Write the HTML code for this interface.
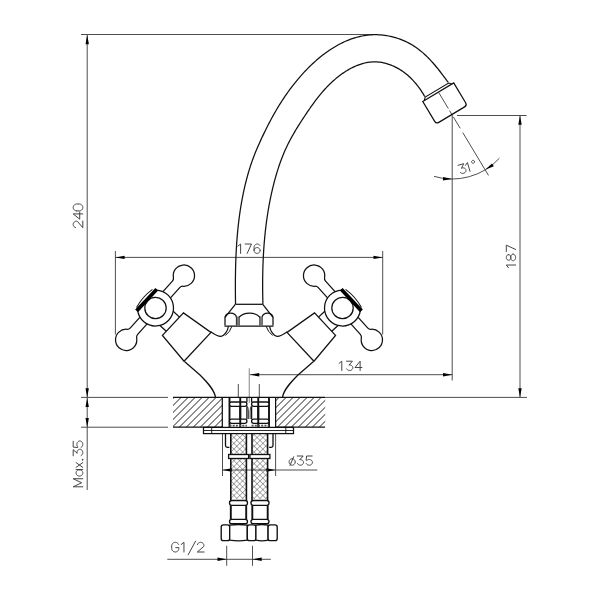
<!DOCTYPE html>
<html><head><meta charset="utf-8"><style>
html,body{margin:0;padding:0;background:#fff;width:600px;height:600px;overflow:hidden}
svg{display:block}
text{font-family:"Liberation Sans",sans-serif}
</style></head><body>
<svg width="600" height="600" viewBox="0 0 600 600">
<rect width="600" height="600" fill="#fff"/>
<line x1="81.00" y1="34.50" x2="376.00" y2="34.50" stroke="#3a3a3a" stroke-width="0.9" fill="none"/>
<line x1="87.20" y1="35.00" x2="87.20" y2="490.00" stroke="#3a3a3a" stroke-width="0.9" fill="none"/>
<polygon points="87.20,35.00 88.90,44.20 85.50,44.20" fill="#000"/>
<polygon points="87.20,397.40 85.50,388.20 88.90,388.20" fill="#000"/>
<polygon points="87.20,397.90 88.90,407.10 85.50,407.10" fill="#000"/>
<polygon points="87.20,427.20 85.50,418.00 88.90,418.00" fill="#000"/>
<line x1="81.00" y1="397.40" x2="168.00" y2="397.40" stroke="#3a3a3a" stroke-width="0.9" fill="none"/>
<line x1="325.00" y1="397.40" x2="527.00" y2="397.40" stroke="#3a3a3a" stroke-width="0.9" fill="none"/>
<line x1="81.00" y1="427.20" x2="168.00" y2="427.20" stroke="#3a3a3a" stroke-width="0.9" fill="none"/>
<path d="M75.55,227.59 L75.02,227.39 L74.54,227.10 L74.11,226.72 L73.75,226.28 L73.48,225.77 L73.29,225.23 L73.21,224.65 L73.22,224.08 L73.33,223.51 L73.54,222.97 L73.83,222.48 L74.21,222.05 L74.65,221.69 L75.15,221.42 L75.68,221.25 L76.24,221.17 L76.80,221.20 L77.35,221.33 L82.80,227.70 L82.80,220.98 M82.80,213.92 L73.20,213.92 L79.73,219.20 L79.73,212.10 M76.66,210.90 L76.06,210.85 L75.47,210.69 L74.93,210.44 L74.43,210.09 L74.01,209.67 L73.66,209.17 L73.41,208.63 L73.25,208.04 L73.20,207.44 L73.25,206.84 L73.41,206.26 L73.66,205.72 L74.01,205.22 L74.43,204.80 L74.93,204.45 L75.47,204.20 L76.06,204.04 L76.66,203.99 L79.34,203.99 L79.94,204.04 L80.53,204.20 L81.07,204.45 L81.57,204.80 L81.99,205.22 L82.34,205.72 L82.59,206.26 L82.75,206.84 L82.80,207.44 L82.75,208.04 L82.59,208.63 L82.34,209.17 L81.99,209.67 L81.57,210.09 L81.07,210.44 L80.53,210.69 L79.94,210.85 L79.34,210.90 L76.66,210.90" stroke="#3a3a3a" stroke-width="0.95" fill="none" stroke-linejoin="round" stroke-linecap="round"/>
<path d="M82.80,486.80 L73.20,486.80 L81.65,482.77 L73.20,478.74 L82.80,478.74 M79.44,469.76 L80.02,469.81 L80.59,469.96 L81.12,470.19 L81.60,470.51 L82.01,470.90 L82.35,471.35 L82.60,471.85 L82.75,472.38 L82.80,472.93 L82.75,473.48 L82.60,474.02 L82.35,474.52 L82.01,474.97 L81.60,475.36 L81.12,475.68 L80.59,475.91 L80.02,476.05 L79.44,476.10 L78.86,476.05 L78.29,475.91 L77.76,475.68 L77.28,475.36 L76.87,474.97 L76.53,474.52 L76.28,474.02 L76.13,473.48 L76.08,472.93 L76.13,472.38 L76.28,471.85 L76.53,471.35 L76.87,470.90 L77.28,470.51 L77.76,470.19 L78.29,469.96 L78.86,469.81 L79.44,469.76 M76.08,469.57 L82.80,469.57 M76.08,467.40 L82.80,462.60 M76.08,462.60 L82.80,467.40 M82.42,460.02 L82.42,459.25 L82.99,459.25 L82.99,460.02 L82.42,460.02 M73.20,455.81 L73.20,449.66 L77.23,453.31 L77.11,453.28 L77.04,452.70 L77.07,452.11 L77.18,451.54 L77.38,451.00 L77.67,450.51 L78.03,450.08 L78.45,449.74 L78.91,449.49 L79.41,449.33 L79.93,449.28 L80.45,449.33 L80.94,449.49 L81.41,449.75 L81.83,450.10 L82.18,450.53 L82.47,451.02 L82.67,451.56 L82.78,452.13 L82.80,452.72 L82.72,453.30 L82.56,453.86 L82.31,454.37 L81.98,454.83 L81.59,455.21 L81.14,455.50 M73.20,441.27 L73.20,447.13 L77.71,447.51 L77.91,446.92 L77.54,446.50 L77.24,446.01 L77.02,445.46 L76.89,444.89 L76.85,444.29 L76.90,443.70 L77.05,443.13 L77.28,442.59 L77.60,442.12 L77.98,441.71 L78.42,441.38 L78.91,441.15 L79.42,441.01 L79.95,440.99 L80.47,441.06 L80.98,441.25 L81.44,441.52 L81.86,441.89 L82.21,442.33 L82.49,442.84 L82.68,443.40 L82.78,443.98 L82.79,444.58 L82.71,445.16 L82.54,445.73 L82.28,446.25 L81.94,446.71 L81.54,447.09 L81.08,447.39" stroke="#3a3a3a" stroke-width="0.95" fill="none" stroke-linejoin="round" stroke-linecap="round"/>
<line x1="115.40" y1="257.40" x2="382.70" y2="257.40" stroke="#3a3a3a" stroke-width="0.9" fill="none"/>
<line x1="115.40" y1="251.00" x2="115.40" y2="334.50" stroke="#3a3a3a" stroke-width="0.9" fill="none"/>
<line x1="382.70" y1="251.00" x2="382.70" y2="334.50" stroke="#3a3a3a" stroke-width="0.9" fill="none"/>
<polygon points="115.40,257.40 124.60,255.70 124.60,259.10" fill="#000"/>
<polygon points="382.70,257.40 373.50,259.10 373.50,255.70" fill="#000"/>
<path d="M237.90,246.16 L240.62,244.00 L240.62,253.40 M245.10,244.00 L251.49,244.00 L247.17,253.40 M259.91,245.36 L259.54,244.92 L259.09,244.56 L258.59,244.27 L258.04,244.09 L257.47,244.01 L256.89,244.02 L256.33,244.15 L255.80,244.37 L255.31,244.68 L254.89,245.08 L254.55,245.55 L254.30,246.07 L254.15,246.62 L254.09,247.20 L254.09,250.49 M260.11,250.49 L260.06,250.99 L259.93,251.48 L259.71,251.94 L259.41,252.36 L259.04,252.72 L258.61,253.01 L258.13,253.22 L257.62,253.36 L257.10,253.40 L256.58,253.36 L256.07,253.22 L255.60,253.01 L255.17,252.72 L254.80,252.36 L254.50,251.94 L254.28,251.48 L254.14,250.99 L254.09,250.49 L254.14,249.98 L254.28,249.49 L254.50,249.03 L254.80,248.61 L255.17,248.25 L255.60,247.96 L256.07,247.75 L256.58,247.62 L257.10,247.57 L257.62,247.62 L258.13,247.75 L258.61,247.96 L259.04,248.25 L259.41,248.61 L259.71,249.03 L259.93,249.49 L260.06,249.98 L260.11,250.49" stroke="#3a3a3a" stroke-width="0.95" fill="none" stroke-linejoin="round" stroke-linecap="round"/>
<line x1="457.00" y1="115.50" x2="526.50" y2="115.50" stroke="#3a3a3a" stroke-width="0.9" fill="none"/>
<line x1="520.00" y1="115.50" x2="520.00" y2="397.40" stroke="#3a3a3a" stroke-width="0.9" fill="none"/>
<polygon points="520.00,115.50 521.70,124.70 518.30,124.70" fill="#000"/>
<polygon points="520.00,397.40 518.30,388.20 521.70,388.20" fill="#000"/>
<path d="M508.44,267.72 L506.30,265.02 L515.60,265.02 M508.62,254.66 L509.03,254.70 L509.42,254.83 L509.79,255.04 L510.12,255.31 L510.41,255.66 L510.64,256.06 L510.81,256.50 L510.91,256.97 L510.95,257.45 L510.91,257.94 L510.81,258.41 L510.64,258.85 L510.41,259.25 L510.12,259.59 L509.79,259.87 L509.42,260.07 L509.03,260.20 L508.62,260.24 L508.22,260.20 L507.83,260.07 L507.46,259.87 L507.13,259.59 L506.84,259.25 L506.61,258.85 L506.44,258.41 L506.34,257.94 L506.30,257.45 L506.34,256.97 L506.44,256.50 L506.61,256.06 L506.84,255.66 L507.13,255.31 L507.46,255.04 L507.83,254.83 L508.22,254.70 L508.62,254.66 M513.09,254.20 L513.53,254.25 L513.95,254.39 L514.34,254.63 L514.70,254.96 L515.01,255.36 L515.26,255.82 L515.45,256.34 L515.56,256.89 L515.60,257.45 L515.56,258.02 L515.45,258.57 L515.26,259.08 L515.01,259.54 L514.70,259.95 L514.34,260.27 L513.95,260.51 L513.53,260.66 L513.09,260.71 L512.65,260.66 L512.23,260.51 L511.83,260.27 L511.47,259.95 L511.17,259.54 L510.91,259.08 L510.73,258.57 L510.62,258.02 L510.58,257.45 L510.62,256.89 L510.73,256.34 L510.91,255.82 L511.17,255.36 L511.47,254.96 L511.83,254.63 L512.23,254.39 L512.65,254.25 L513.09,254.20 M506.30,251.50 L506.30,245.18 L515.60,249.45" stroke="#3a3a3a" stroke-width="0.95" fill="none" stroke-linejoin="round" stroke-linecap="round"/>
<line x1="452.20" y1="115.00" x2="452.20" y2="380.50" stroke="#3a3a3a" stroke-width="0.9" fill="none"/>
<line x1="250.00" y1="374.70" x2="452.20" y2="374.70" stroke="#3a3a3a" stroke-width="0.9" fill="none"/>
<polygon points="250.00,374.70 259.20,373.00 259.20,376.40" fill="#000"/>
<polygon points="452.20,374.70 443.00,376.40 443.00,373.00" fill="#000"/>
<path d="M339.08,363.34 L341.78,361.20 L341.78,370.50 M346.49,361.20 L352.44,361.20 L348.90,365.11 L348.94,364.99 L349.50,364.92 L350.07,364.94 L350.62,365.06 L351.15,365.25 L351.62,365.53 L352.03,365.88 L352.37,366.28 L352.61,366.74 L352.76,367.22 L352.81,367.72 L352.76,368.22 L352.60,368.70 L352.35,369.15 L352.02,369.56 L351.60,369.90 L351.13,370.18 L350.60,370.37 L350.05,370.48 L349.48,370.50 L348.92,370.42 L348.38,370.26 L347.88,370.02 L347.44,369.70 L347.07,369.32 L346.78,368.89 M360.12,370.50 L360.12,361.20 L355.00,367.52 L361.88,367.52" stroke="#3a3a3a" stroke-width="0.95" fill="none" stroke-linejoin="round" stroke-linecap="round"/>
<line x1="249.25" y1="368.30" x2="249.25" y2="403.00" stroke="#777" stroke-width="0.9" fill="none"/>
<line x1="238.30" y1="384.00" x2="238.30" y2="397.40" stroke="#3a3a3a" stroke-width="0.9" fill="none"/>
<line x1="259.30" y1="384.00" x2="259.30" y2="397.40" stroke="#3a3a3a" stroke-width="0.9" fill="none"/>
<path d="M434.02,176.36 A64,64 0 0 0 499.39,158.24" stroke="#3a3a3a" stroke-width="0.9" fill="none"/>
<polygon points="452.20,179.00 442.96,180.46 443.05,177.06" fill="#000"/>
<polygon points="485.16,169.86 492.01,163.48 493.84,166.35" fill="#000"/>
<line x1="438.81" y1="92.71" x2="448.34" y2="108.57" stroke="#3a3a3a" stroke-width="0.9" fill="none"/>
<line x1="449.52" y1="110.54" x2="451.79" y2="114.31" stroke="#3a3a3a" stroke-width="0.9" fill="none"/>
<line x1="453.23" y1="116.71" x2="460.18" y2="128.29" stroke="#3a3a3a" stroke-width="0.9" fill="none"/>
<line x1="462.76" y1="132.57" x2="488.51" y2="175.43" stroke="#3a3a3a" stroke-width="0.9" fill="none"/>
<path d="M458.06,165.33 L463.71,163.65 L461.45,168.35 L461.45,168.23 L461.97,168.01 L462.51,167.87 L463.07,167.82 L463.62,167.86 L464.15,167.99 L464.64,168.20 L465.07,168.50 L465.43,168.86 L465.71,169.27 L465.89,169.73 L465.98,170.22 L465.97,170.72 L465.86,171.22 L465.66,171.70 L465.36,172.14 L464.99,172.54 L464.54,172.87 L464.05,173.13 L463.51,173.30 L462.96,173.39 L462.40,173.39 L461.86,173.30 L461.36,173.13 L460.90,172.87 L460.50,172.54 M465.45,165.34 L467.41,162.56 L470.02,171.38 M474.48,161.42 L474.53,161.68 L474.53,161.93 L474.50,162.19 L474.41,162.43 L474.29,162.66 L474.13,162.86 L473.94,163.03 L473.72,163.16 L473.48,163.25 L473.23,163.31 L472.97,163.31 L472.72,163.27 L472.48,163.19 L472.25,163.07 L472.05,162.91 L471.88,162.72 L471.75,162.50 L471.65,162.26 L471.60,162.01 L471.59,161.75 L471.63,161.50 L471.71,161.26 L471.84,161.03 L472.00,160.83 L472.19,160.66 L472.41,160.53 L472.65,160.43 L472.90,160.38 L473.15,160.37 L473.41,160.41 L473.65,160.49 L473.88,160.62 L474.08,160.78 L474.25,160.97 L474.38,161.19 L474.48,161.42" stroke="#3a3a3a" stroke-width="0.95" fill="none" stroke-linejoin="round" stroke-linecap="round"/>
<line x1="222.50" y1="434.00" x2="222.50" y2="476.00" stroke="#3a3a3a" stroke-width="0.9" fill="none"/>
<line x1="275.60" y1="434.00" x2="275.60" y2="476.00" stroke="#3a3a3a" stroke-width="0.9" fill="none"/>
<line x1="222.50" y1="470.00" x2="317.30" y2="470.00" stroke="#3a3a3a" stroke-width="0.9" fill="none"/>
<polygon points="222.50,470.00 231.70,468.30 231.70,471.70" fill="#000"/>
<polygon points="275.60,470.00 266.40,471.70 266.40,468.30" fill="#000"/>
<path d="M295.17,461.98 L295.13,462.54 L294.99,463.08 L294.77,463.59 L294.46,464.05 L294.09,464.45 L293.65,464.77 L293.17,465.01 L292.66,465.15 L292.14,465.20 L291.61,465.15 L291.10,465.01 L290.62,464.77 L290.18,464.45 L289.81,464.05 L289.51,463.59 L289.28,463.08 L289.15,462.54 L289.10,461.98 L289.15,461.42 L289.28,460.88 L289.51,460.37 L289.81,459.91 L290.18,459.51 L290.62,459.19 L291.10,458.95 L291.61,458.81 L292.14,458.76 L292.66,458.81 L293.17,458.95 L293.65,459.19 L294.09,459.51 L294.46,459.91 L294.77,460.37 L294.99,460.88 L295.13,461.42 L295.17,461.98 M293.70,456.74 L290.02,465.38 M297.28,456.00 L303.17,456.00 L299.68,459.86 L299.71,459.75 L300.27,459.68 L300.83,459.70 L301.38,459.81 L301.89,460.01 L302.36,460.28 L302.77,460.63 L303.10,461.03 L303.34,461.48 L303.49,461.96 L303.54,462.45 L303.49,462.94 L303.34,463.42 L303.09,463.87 L302.76,464.27 L302.35,464.61 L301.87,464.88 L301.36,465.07 L300.81,465.18 L300.24,465.20 L299.69,465.12 L299.15,464.97 L298.66,464.73 L298.23,464.41 L297.86,464.04 L297.58,463.61 M312.16,456.00 L306.54,456.00 L306.18,460.32 L306.75,460.51 L307.15,460.16 L307.62,459.87 L308.14,459.66 L308.69,459.53 L309.26,459.50 L309.83,459.55 L310.38,459.69 L310.89,459.91 L311.35,460.21 L311.74,460.58 L312.05,461.00 L312.28,461.47 L312.40,461.96 L312.43,462.47 L312.35,462.97 L312.18,463.45 L311.91,463.90 L311.56,464.30 L311.14,464.63 L310.65,464.90 L310.12,465.08 L309.56,465.18 L308.99,465.19 L308.43,465.11 L307.89,464.95 L307.39,464.70 L306.95,464.38 L306.58,463.99 L306.29,463.55" stroke="#3a3a3a" stroke-width="0.95" fill="none" stroke-linejoin="round" stroke-linecap="round"/>
<line x1="226.70" y1="545.80" x2="226.70" y2="565.80" stroke="#3a3a3a" stroke-width="0.9" fill="none"/>
<line x1="252.50" y1="545.80" x2="252.50" y2="565.80" stroke="#3a3a3a" stroke-width="0.9" fill="none"/>
<line x1="167.30" y1="559.30" x2="270.80" y2="559.30" stroke="#3a3a3a" stroke-width="0.9" fill="none"/>
<polygon points="226.70,559.30 217.50,561.00 217.50,557.60" fill="#000"/>
<polygon points="252.50,559.30 261.70,557.60 261.70,561.00" fill="#000"/>
<path d="M178.54,544.37 L178.22,543.81 L177.80,543.32 L177.30,542.91 L176.73,542.60 L176.12,542.40 L175.48,542.30 L174.83,542.33 L174.20,542.47 L173.60,542.72 L173.06,543.07 L172.59,543.52 L172.21,544.04 L171.93,544.62 L171.76,545.25 L171.70,545.89 L171.70,548.41 L171.75,549.03 L171.92,549.64 L172.18,550.21 L172.54,550.72 L172.98,551.16 L173.49,551.52 L174.06,551.78 L174.67,551.95 L175.29,552.00 L175.91,551.95 L176.52,551.78 L177.08,551.52 L177.60,551.16 L178.04,550.72 L178.40,550.21 L178.66,549.64 L178.82,549.03 L178.88,548.41 L178.88,547.63 L175.77,547.63 M181.15,544.53 L183.96,542.30 L183.96,552.00 M195.57,541.14 L188.19,554.72 M197.41,544.67 L197.61,544.14 L197.91,543.65 L198.29,543.22 L198.74,542.86 L199.25,542.58 L199.80,542.40 L200.38,542.31 L200.96,542.32 L201.53,542.43 L202.08,542.64 L202.58,542.94 L203.01,543.32 L203.37,543.77 L203.64,544.27 L203.82,544.81 L203.89,545.37 L203.87,545.94 L203.73,546.49 L197.30,552.00 L204.09,552.00" stroke="#3a3a3a" stroke-width="0.95" fill="none" stroke-linejoin="round" stroke-linecap="round"/>
<path d="M235.50,304.30 L235.50,302.36 L235.48,300.44 L235.45,298.52 L235.43,296.60 L235.42,294.68 L235.40,292.76 L235.39,290.83 L235.38,288.91 L235.38,286.98 L235.38,285.06 L235.39,283.13 L235.40,281.20 L235.41,279.27 L235.43,277.35 L235.45,275.42 L235.48,273.49 L235.51,271.56 L235.55,269.63 L235.60,267.70 L235.64,265.77 L235.70,263.84 L235.76,261.90 L235.83,259.97 L235.90,258.04 L235.98,256.11 L236.07,254.18 L236.16,252.25 L236.27,250.32 L236.37,248.40 L236.49,246.47 L236.61,244.54 L236.74,242.61 L236.88,240.69 L237.03,238.76 L237.18,236.84 L237.34,234.91 L237.51,232.99 L237.69,231.07 L237.88,229.15 L238.08,227.23 L238.29,225.31 L238.50,223.40 L238.73,221.48 L238.96,219.57 L239.21,217.66 L239.46,215.75 L239.73,213.84 L240.00,211.93 L240.29,210.03 L240.59,208.13 L240.89,206.23 L241.21,204.33 L241.54,202.43 L241.88,200.54 L242.23,198.64 L242.60,196.76 L242.97,194.87 L243.36,192.98 L243.76,191.10 L244.17,189.22 L244.59,187.34 L245.03,185.47 L245.48,183.60 L245.94,181.73 L246.42,179.86 L246.91,178.00 L247.42,176.14 L247.94,174.29 L248.47,172.43 L249.02,170.59 L249.59,168.74 L250.17,166.90 L250.77,165.06 L251.39,163.23 L252.02,161.40 L252.68,159.58 L253.35,157.76 L254.04,155.95 L254.74,154.14 L255.46,152.34 L256.20,150.54 L256.95,148.74 L257.71,146.96 L258.49,145.17 L259.28,143.40 L260.07,141.63 L260.88,139.87 L261.70,138.11 L262.52,136.36 L263.35,134.61 L264.19,132.88 L265.03,131.15 L265.88,129.43 L266.74,127.71 L267.60,126.00 L268.48,124.30 L269.36,122.61 L270.25,120.92 L271.15,119.24 L272.06,117.56 L272.98,115.90 L273.91,114.24 L274.85,112.59 L275.80,110.94 L276.76,109.30 L277.74,107.67 L278.72,106.05 L279.72,104.43 L280.73,102.82 L281.75,101.22 L282.79,99.63 L283.84,98.04 L284.91,96.46 L285.99,94.89 L287.08,93.32 L288.20,91.76 L289.32,90.21 L290.46,88.67 L291.62,87.13 L292.80,85.60 L293.99,84.08 L295.20,82.57 L296.43,81.06 L297.67,79.56 L298.94,78.07 L300.22,76.59 L301.52,75.12 L302.84,73.65 L304.17,72.20 L305.52,70.77 L306.89,69.34 L308.28,67.93 L309.68,66.54 L311.10,65.16 L312.54,63.80 L313.99,62.46 L315.46,61.14 L316.94,59.84 L318.44,58.56 L319.96,57.30 L321.49,56.07 L323.03,54.86 L324.59,53.68 L326.16,52.52 L327.75,51.39 L329.35,50.29 L330.97,49.21 L332.60,48.17 L334.24,47.16 L335.90,46.18 L337.57,45.23 L339.25,44.32 L340.94,43.44 L342.65,42.60 L344.37,41.79 L346.10,41.03 L347.84,40.30 L349.60,39.61 L351.36,38.96 L353.14,38.36 L354.93,37.79 L356.73,37.27 L358.54,36.80 L360.36,36.37 L362.19,35.99 L364.03,35.65 L365.88,35.37 L367.74,35.13 L369.61,34.94 L371.49,34.81 L373.37,34.73 L375.27,34.70 L377.17,34.72 L379.08,34.80 L381.00,34.94 L382.92,35.12 L384.84,35.36 L386.76,35.66 L388.68,36.01 L390.59,36.40 L392.50,36.85 L394.39,37.35 L396.28,37.91 L398.15,38.51 L400.00,39.16 L401.83,39.86 L403.65,40.61 L405.44,41.41 L407.21,42.25 L408.96,43.14 L410.67,44.08 L412.35,45.07 L414.00,46.10 L415.62,47.18 L417.21,48.30 L418.77,49.46 L420.29,50.65 L421.79,51.88 L423.26,53.15 L424.70,54.45 L426.12,55.78 L427.51,57.13 L428.88,58.52 L430.22,59.92 L431.54,61.35 L432.84,62.79 L434.12,64.26 L435.38,65.74 L436.62,67.23 L437.84,68.73 L439.05,70.24 L440.24,71.76 L441.41,73.29 L442.57,74.81 L443.72,76.34 L444.85,77.87 L445.97,79.39 L447.08,80.91 L448.30,82.40" stroke="#111" stroke-width="1.25" fill="none"/>
<path d="M262.80,304.30 L262.89,302.69 L262.85,301.08 L262.81,299.48 L262.78,297.87 L262.75,296.27 L262.72,294.66 L262.70,293.06 L262.68,291.45 L262.67,289.84 L262.65,288.23 L262.65,286.63 L262.65,285.02 L262.65,283.41 L262.65,281.80 L262.66,280.19 L262.67,278.59 L262.69,276.98 L262.72,275.37 L262.74,273.76 L262.77,272.15 L262.81,270.54 L262.85,268.93 L262.90,267.32 L262.95,265.71 L263.00,264.10 L263.07,262.50 L263.13,260.89 L263.20,259.28 L263.28,257.67 L263.36,256.06 L263.45,254.46 L263.54,252.85 L263.63,251.24 L263.74,249.64 L263.85,248.03 L263.96,246.43 L264.08,244.82 L264.21,243.22 L264.34,241.62 L264.48,240.01 L264.62,238.41 L264.77,236.81 L264.93,235.21 L265.09,233.61 L265.26,232.01 L265.43,230.41 L265.61,228.81 L265.80,227.22 L266.00,225.62 L266.20,224.03 L266.40,222.43 L266.62,220.84 L266.84,219.25 L267.07,217.66 L267.30,216.07 L267.55,214.48 L267.80,212.89 L268.05,211.31 L268.32,209.72 L268.59,208.14 L268.87,206.56 L269.15,204.98 L269.45,203.40 L269.75,201.82 L270.06,200.24 L270.38,198.67 L270.70,197.10 L271.03,195.52 L271.37,193.95 L271.72,192.39 L272.08,190.82 L272.44,189.25 L272.82,187.69 L273.20,186.13 L273.59,184.57 L273.99,183.01 L274.39,181.45 L274.81,179.90 L275.23,178.35 L275.67,176.80 L276.11,175.25 L276.57,173.71 L277.03,172.17 L277.51,170.63 L278.00,169.10 L278.49,167.57 L279.00,166.05 L279.52,164.53 L280.05,163.01 L280.60,161.50 L281.15,160.00 L281.72,158.50 L282.30,157.00 L282.90,155.51 L283.51,154.03 L284.13,152.55 L284.76,151.08 L285.41,149.61 L286.08,148.16 L286.75,146.71 L287.45,145.26 L288.15,143.82 L288.88,142.39 L289.61,140.97 L290.36,139.55 L291.12,138.14 L291.89,136.74 L292.68,135.34 L293.47,133.94 L294.28,132.56 L295.09,131.17 L295.92,129.79 L296.75,128.42 L297.59,127.05 L298.44,125.68 L299.30,124.32 L300.16,122.97 L301.03,121.61 L301.90,120.26 L302.78,118.91 L303.67,117.57 L304.55,116.23 L305.45,114.89 L306.34,113.55 L307.24,112.21 L308.14,110.88 L309.05,109.56 L309.97,108.24 L310.89,106.92 L311.82,105.61 L312.75,104.30 L313.70,103.01 L314.65,101.71 L315.62,100.43 L316.59,99.15 L317.57,97.89 L318.57,96.63 L319.58,95.38 L320.60,94.14 L321.63,92.91 L322.68,91.69 L323.74,90.48 L324.81,89.28 L325.90,88.10 L327.01,86.93 L328.13,85.77 L329.27,84.63 L330.43,83.50 L331.60,82.38 L332.80,81.28 L334.01,80.20 L335.25,79.13 L336.50,78.07 L337.78,77.04 L339.07,76.02 L340.38,75.03 L341.71,74.06 L343.06,73.11 L344.42,72.20 L345.80,71.30 L347.19,70.44 L348.60,69.61 L350.02,68.82 L351.46,68.05 L352.90,67.33 L354.36,66.64 L355.83,65.99 L357.31,65.38 L358.80,64.81 L360.30,64.29 L361.81,63.81 L363.33,63.38 L364.85,63.00 L366.38,62.67 L367.91,62.40 L369.45,62.17 L371.00,62.01 L372.55,61.90 L374.10,61.84 L375.65,61.85 L377.21,61.92 L378.76,62.05 L380.32,62.24 L381.87,62.49 L383.42,62.80 L384.96,63.16 L386.50,63.57 L388.03,64.04 L389.55,64.56 L391.06,65.12 L392.55,65.74 L394.04,66.40 L395.50,67.11 L396.95,67.87 L398.39,68.66 L399.80,69.50 L401.19,70.38 L402.56,71.30 L403.91,72.25 L405.23,73.24 L406.52,74.27 L407.79,75.33 L409.03,76.42 L410.24,77.54 L411.41,78.69 L412.56,79.86 L413.68,81.06 L414.77,82.29 L415.83,83.53 L416.86,84.79 L417.86,86.06 L418.83,87.35 L419.76,88.66 L420.67,89.97 L421.55,91.29 L422.40,92.61 L423.22,93.94 L424.00,95.27 L425.00,96.50" stroke="#111" stroke-width="1.25" fill="none"/>
<line x1="235.40" y1="304.30" x2="262.80" y2="304.30" stroke="#111" stroke-width="1.25" fill="none"/>
<g transform="translate(445.2,103.7) rotate(-31)">
<path d="M-18.1,-13.4 L18,-13.4 L18,9.7 Q18,12.7 15,12.7 L-15.1,12.7 Q-18.1,12.7 -18.1,9.7 Z" stroke="#111" stroke-width="1.25" fill="none"/>
<path d="M-16.4,-13.4 L-13.7,-16 L13.6,-16 L15.8,-13.4" stroke="#111" stroke-width="1.1" fill="none"/>
</g>
<g transform="translate(155.5,308) rotate(43)"><circle cx="0" cy="0" r="10.7" stroke="#111" stroke-width="1.25" fill="none"/>
<path d="M-11.80,-13.59 A18,18 0 1 1 -11.80,13.59" stroke="#111" stroke-width="1.25" fill="none"/>
<path d="M15.16,-9.70 L23.8,-9.70 M15.16,9.70 L23.8,9.70" stroke="#111" stroke-width="1.25" fill="none"/>
<g transform="translate(-0.5,0.15) rotate(-1.07)"><path d="M-4.90,-17.32 L-4.90,-31.46 A4.2,4.2 0 0 0 -6.53,-34.78 A10.65,10.65 0 1 1 6.53,-34.78 A4.2,4.2 0 0 0 4.90,-31.46 L4.90,-17.32" stroke="#111" stroke-width="1.25" fill="none"/><path d="M-4.90,-17.32 L-4.90,-31.46 A4.2,4.2 0 0 0 -6.53,-34.78 A10.65,10.65 0 1 1 6.53,-34.78 A4.2,4.2 0 0 0 4.90,-31.46 L4.90,-17.32" stroke="#111" stroke-width="1.25" fill="none" transform="scale(1,-1)"/></g>
<line x1="-11.9" y1="-14.6" x2="-11.9" y2="15.0" stroke="#000" stroke-width="3.8"/>
<path d="M-14.2,12.6 Q-17.4,1 -15,-11.6" stroke="#111" stroke-width="1.0" fill="none"/>
<path d="M23.8,15.3 L23.8,-15.5 L57.2,-20 L57.2,19.5 Z" stroke="#111" stroke-width="1.25" fill="none"/></g>
<g transform="translate(498,0) scale(-1,1)"><g transform="translate(155.5,308) rotate(43)"><circle cx="0" cy="0" r="10.7" stroke="#111" stroke-width="1.25" fill="none"/>
<path d="M-11.80,-13.59 A18,18 0 1 1 -11.80,13.59" stroke="#111" stroke-width="1.25" fill="none"/>
<path d="M15.16,-9.70 L23.8,-9.70 M15.16,9.70 L23.8,9.70" stroke="#111" stroke-width="1.25" fill="none"/>
<g transform="translate(-0.5,0.15) rotate(-1.07)"><path d="M-4.90,-17.32 L-4.90,-31.46 A4.2,4.2 0 0 0 -6.53,-34.78 A10.65,10.65 0 1 1 6.53,-34.78 A4.2,4.2 0 0 0 4.90,-31.46 L4.90,-17.32" stroke="#111" stroke-width="1.25" fill="none"/><path d="M-4.90,-17.32 L-4.90,-31.46 A4.2,4.2 0 0 0 -6.53,-34.78 A10.65,10.65 0 1 1 6.53,-34.78 A4.2,4.2 0 0 0 4.90,-31.46 L4.90,-17.32" stroke="#111" stroke-width="1.25" fill="none" transform="scale(1,-1)"/></g>
<line x1="-11.9" y1="-14.6" x2="-11.9" y2="15.0" stroke="#000" stroke-width="3.8"/>
<path d="M-14.2,12.6 Q-17.4,1 -15,-11.6" stroke="#111" stroke-width="1.0" fill="none"/>
<path d="M23.8,15.3 L23.8,-15.5 L57.2,-20 L57.2,19.5 Z" stroke="#111" stroke-width="1.25" fill="none"/></g></g>
<path d="M210.7,331.7 C214,334 218,336.5 221,336.3 C224.5,336 227.6,331 228.4,326.5 M184.5,361.5 L200,375 C208,383 214.5,390 215.5,397.4" stroke="#111" stroke-width="1.25" fill="none"/>
<path d="M225.2,335.6 Q230.2,331.8 231.9,326.3" stroke="#111" stroke-width="1.0" fill="none"/>
<g transform="translate(498,0) scale(-1,1)"><path d="M210.7,331.7 C214,334 218,336.5 221,336.3 C224.5,336 227.6,331 228.4,326.5 M184.5,361.5 L200,375 C208,383 214.5,390 215.5,397.4" stroke="#111" stroke-width="1.25" fill="none"/><path d="M225.2,335.6 Q230.2,331.8 231.9,326.3" stroke="#111" stroke-width="1.0" fill="none"/></g>
<path d="M235.3,304.3 L225,317.3 M262.8,304.3 L273,317.3" stroke="#111" stroke-width="1.25" fill="none"/>
<line x1="224.50" y1="326.20" x2="273.50" y2="326.20" stroke="#111" stroke-width="1.25" fill="none"/>
<path d="M225,325.5 L225,317.3 Q226,313.2 230.7,313.2 Q235.5,313.2 236.5,317.3 L236.5,325.5" stroke="#111" stroke-width="1.25" fill="none"/>
<path d="M239,325.5 L239,317.3 Q243,313 249.5,313 Q256,313 260,317.3 L260,325.5" stroke="#111" stroke-width="1.25" fill="none"/>
<path d="M262,325.5 L262,317.3 Q263,313.2 267.5,313.2 Q272,313.2 273,317.3 L273,325.5" stroke="#111" stroke-width="1.25" fill="none"/>
<rect x="236.6" y="316.5" width="2.3" height="9.5" fill="#777"/>
<rect x="260.1" y="316.5" width="2.3" height="9.5" fill="#777"/>
<clipPath id="ctl"><rect x="173" y="397.4" width="49.3" height="29.8"/></clipPath>
<clipPath id="ctr"><rect x="275.6" y="397.4" width="49.6" height="29.8"/></clipPath>
<path d="M-5.50,430.00 L29.50,395.00 M1.50,430.00 L36.50,395.00 M8.50,430.00 L43.50,395.00 M15.50,430.00 L50.50,395.00 M22.50,430.00 L57.50,395.00 M29.50,430.00 L64.50,395.00 M36.50,430.00 L71.50,395.00 M43.50,430.00 L78.50,395.00 M50.50,430.00 L85.50,395.00 M57.50,430.00 L92.50,395.00 M64.50,430.00 L99.50,395.00 M71.50,430.00 L106.50,395.00 M78.50,430.00 L113.50,395.00 M85.50,430.00 L120.50,395.00 M92.50,430.00 L127.50,395.00 M99.50,430.00 L134.50,395.00 M106.50,430.00 L141.50,395.00 M113.50,430.00 L148.50,395.00 M120.50,430.00 L155.50,395.00 M127.50,430.00 L162.50,395.00 M134.50,430.00 L169.50,395.00 M141.50,430.00 L176.50,395.00 M148.50,430.00 L183.50,395.00 M155.50,430.00 L190.50,395.00 M162.50,430.00 L197.50,395.00 M169.50,430.00 L204.50,395.00 M176.50,430.00 L211.50,395.00 M183.50,430.00 L218.50,395.00 M190.50,430.00 L225.50,395.00 M197.50,430.00 L232.50,395.00 M204.50,430.00 L239.50,395.00 M211.50,430.00 L246.50,395.00 M218.50,430.00 L253.50,395.00 M225.50,430.00 L260.50,395.00 M232.50,430.00 L267.50,395.00 M239.50,430.00 L274.50,395.00 M246.50,430.00 L281.50,395.00 M253.50,430.00 L288.50,395.00 M260.50,430.00 L295.50,395.00 M267.50,430.00 L302.50,395.00 M274.50,430.00 L309.50,395.00 M281.50,430.00 L316.50,395.00 M288.50,430.00 L323.50,395.00 M295.50,430.00 L330.50,395.00 M302.50,430.00 L337.50,395.00 M309.50,430.00 L344.50,395.00 M316.50,430.00 L351.50,395.00 M323.50,430.00 L358.50,395.00 M330.50,430.00 L365.50,395.00 M337.50,430.00 L372.50,395.00" stroke="#111" stroke-width="0.95" clip-path="url(#ctl)"/>
<path d="M-5.50,430.00 L29.50,395.00 M1.50,430.00 L36.50,395.00 M8.50,430.00 L43.50,395.00 M15.50,430.00 L50.50,395.00 M22.50,430.00 L57.50,395.00 M29.50,430.00 L64.50,395.00 M36.50,430.00 L71.50,395.00 M43.50,430.00 L78.50,395.00 M50.50,430.00 L85.50,395.00 M57.50,430.00 L92.50,395.00 M64.50,430.00 L99.50,395.00 M71.50,430.00 L106.50,395.00 M78.50,430.00 L113.50,395.00 M85.50,430.00 L120.50,395.00 M92.50,430.00 L127.50,395.00 M99.50,430.00 L134.50,395.00 M106.50,430.00 L141.50,395.00 M113.50,430.00 L148.50,395.00 M120.50,430.00 L155.50,395.00 M127.50,430.00 L162.50,395.00 M134.50,430.00 L169.50,395.00 M141.50,430.00 L176.50,395.00 M148.50,430.00 L183.50,395.00 M155.50,430.00 L190.50,395.00 M162.50,430.00 L197.50,395.00 M169.50,430.00 L204.50,395.00 M176.50,430.00 L211.50,395.00 M183.50,430.00 L218.50,395.00 M190.50,430.00 L225.50,395.00 M197.50,430.00 L232.50,395.00 M204.50,430.00 L239.50,395.00 M211.50,430.00 L246.50,395.00 M218.50,430.00 L253.50,395.00 M225.50,430.00 L260.50,395.00 M232.50,430.00 L267.50,395.00 M239.50,430.00 L274.50,395.00 M246.50,430.00 L281.50,395.00 M253.50,430.00 L288.50,395.00 M260.50,430.00 L295.50,395.00 M267.50,430.00 L302.50,395.00 M274.50,430.00 L309.50,395.00 M281.50,430.00 L316.50,395.00 M288.50,430.00 L323.50,395.00 M295.50,430.00 L330.50,395.00 M302.50,430.00 L337.50,395.00 M309.50,430.00 L344.50,395.00 M316.50,430.00 L351.50,395.00 M323.50,430.00 L358.50,395.00 M330.50,430.00 L365.50,395.00 M337.50,430.00 L372.50,395.00" stroke="#111" stroke-width="0.95" clip-path="url(#ctr)"/>
<line x1="173.00" y1="397.40" x2="325.00" y2="397.40" stroke="#111" stroke-width="1.25" fill="none"/>
<line x1="173.00" y1="427.20" x2="222.30" y2="427.20" stroke="#111" stroke-width="1.25" fill="none"/>
<line x1="275.60" y1="427.20" x2="325.00" y2="427.20" stroke="#111" stroke-width="1.25" fill="none"/>
<line x1="222.30" y1="397.40" x2="222.30" y2="427.20" stroke="#111" stroke-width="1.25" fill="none"/>
<line x1="275.60" y1="397.40" x2="275.60" y2="427.20" stroke="#111" stroke-width="1.25" fill="none"/>
<line x1="229.50" y1="397.40" x2="229.50" y2="427.20" stroke="#111" stroke-width="1.9"/>
<line x1="246.90" y1="397.40" x2="246.90" y2="402.00" stroke="#111" stroke-width="1.3" fill="none"/>
<line x1="246.90" y1="406.30" x2="246.90" y2="419.30" stroke="#111" stroke-width="1.3" fill="none"/>
<line x1="240.25" y1="397.40" x2="240.25" y2="427.20" stroke="#111" stroke-width="1.9"/>
<rect x="229.50" y="402" width="17.40" height="4.3" rx="2.1" fill="#fff" stroke="#111" stroke-width="1.3"/>
<rect x="229.50" y="419.2" width="17.40" height="4.2" rx="2.1" fill="#fff" stroke="#111" stroke-width="1.3"/>
<line x1="240.25" y1="402.00" x2="240.25" y2="423.40" stroke="#111" stroke-width="1.9"/>
<line x1="229.50" y1="425.60" x2="246.90" y2="425.60" stroke="#555" stroke-width="1.6" stroke-dasharray="2,1.2"/>
<line x1="269.00" y1="397.40" x2="269.00" y2="427.20" stroke="#111" stroke-width="1.9"/>
<line x1="251.60" y1="397.40" x2="251.60" y2="402.00" stroke="#111" stroke-width="1.3" fill="none"/>
<line x1="251.60" y1="406.30" x2="251.60" y2="419.30" stroke="#111" stroke-width="1.3" fill="none"/>
<line x1="258.25" y1="397.40" x2="258.25" y2="427.20" stroke="#111" stroke-width="1.9"/>
<rect x="251.60" y="402" width="17.40" height="4.3" rx="2.1" fill="#fff" stroke="#111" stroke-width="1.3"/>
<rect x="251.60" y="419.2" width="17.40" height="4.2" rx="2.1" fill="#fff" stroke="#111" stroke-width="1.3"/>
<line x1="258.25" y1="402.00" x2="258.25" y2="423.40" stroke="#111" stroke-width="1.9"/>
<line x1="251.60" y1="425.60" x2="269.00" y2="425.60" stroke="#555" stroke-width="1.6" stroke-dasharray="2,1.2"/>
<path d="M247.6,406.5 Q248.4,409 248.4,412 L248.4,419 M250.9,406.5 Q250.1,409 250.1,412 L250.1,419" stroke="#111" stroke-width="0.8" fill="none"/>
<rect x="203.5" y="427.4" width="90" height="6.2" stroke="#111" stroke-width="1.25" fill="none"/>
<line x1="203.50" y1="430.50" x2="293.50" y2="430.50" stroke="#111" stroke-width="0.9"/>
<line x1="211.70" y1="427.40" x2="211.70" y2="433.60" stroke="#111" stroke-width="0.9"/>
<line x1="285.80" y1="427.40" x2="285.80" y2="433.60" stroke="#111" stroke-width="0.9"/>
<defs><pattern id="mesh" width="4.1" height="4.1" patternUnits="userSpaceOnUse" patternTransform="translate(231,434) rotate(45)"><path d="M0,0 L4.1,0 M0,0 L0,4.1" stroke="#333" stroke-width="0.75"/></pattern></defs>
<rect x="230.80" y="434" width="15.60" height="64.8" fill="url(#mesh)"/>
<line x1="230.80" y1="434.00" x2="230.80" y2="500.50" stroke="#111" stroke-width="1.6"/>
<line x1="246.40" y1="434.00" x2="246.40" y2="500.50" stroke="#111" stroke-width="1.6"/>
<rect x="252.00" y="434" width="15.60" height="64.8" fill="url(#mesh)"/>
<line x1="252.00" y1="434.00" x2="252.00" y2="500.50" stroke="#111" stroke-width="1.6"/>
<line x1="267.60" y1="434.00" x2="267.60" y2="500.50" stroke="#111" stroke-width="1.6"/>
<rect x="228.6" y="454.5" width="20" height="4" fill="#fff" stroke="#111" stroke-width="1.3"/>
<rect x="249.9" y="454.5" width="20" height="4" fill="#fff" stroke="#111" stroke-width="1.3"/>
<rect x="229.50" y="500.5" width="18.00" height="4.8" rx="2.2" fill="#fff" stroke="#111" stroke-width="1.3"/>
<line x1="230.80" y1="505.30" x2="230.80" y2="519.30" stroke="#111" stroke-width="1.9"/>
<line x1="246.20" y1="505.30" x2="246.20" y2="519.30" stroke="#111" stroke-width="1.9"/>
<rect x="229.50" y="519.3" width="18.00" height="4.4" rx="2.2" fill="#fff" stroke="#111" stroke-width="1.3"/>
<rect x="251.00" y="500.5" width="18.00" height="4.8" rx="2.2" fill="#fff" stroke="#111" stroke-width="1.3"/>
<line x1="252.30" y1="505.30" x2="252.30" y2="519.30" stroke="#111" stroke-width="1.9"/>
<line x1="267.70" y1="505.30" x2="267.70" y2="519.30" stroke="#111" stroke-width="1.9"/>
<rect x="251.00" y="519.3" width="18.00" height="4.4" rx="2.2" fill="#fff" stroke="#111" stroke-width="1.3"/>
<path d="M225.5,434 L225.5,445.5 Q225.5,447.3 227.3,447.3 L229.4,447.3" stroke="#111" stroke-width="1.3" fill="none"/>
<path d="M273,434 L273,445.5 Q273,447.3 271.2,447.3 L269.1,447.3" stroke="#111" stroke-width="1.3" fill="none"/>
<rect x="221.2" y="524.8" width="8.5" height="15.8" rx="2.2" stroke="#111" stroke-width="1.35" fill="#fff"/>
<path d="M229.7,525.2 Q238.5,523.8 247.3,525.2 L247.3,540.2 Q238.5,541.6 229.7,540.2 Z" stroke="#111" stroke-width="1.35" fill="#fff"/>
<rect x="247.3" y="524.8" width="8.6" height="15.8" rx="2.2" stroke="#111" stroke-width="1.35" fill="#fff"/>
<path d="M255.9,525.2 Q262,523.8 268.1,525.2 L268.1,540.2 Q262,541.6 255.9,540.2 Z" stroke="#111" stroke-width="1.35" fill="#fff"/>
<rect x="268.1" y="524.8" width="9.1" height="15.8" rx="2.2" stroke="#111" stroke-width="1.35" fill="#fff"/>
</svg></body></html>
